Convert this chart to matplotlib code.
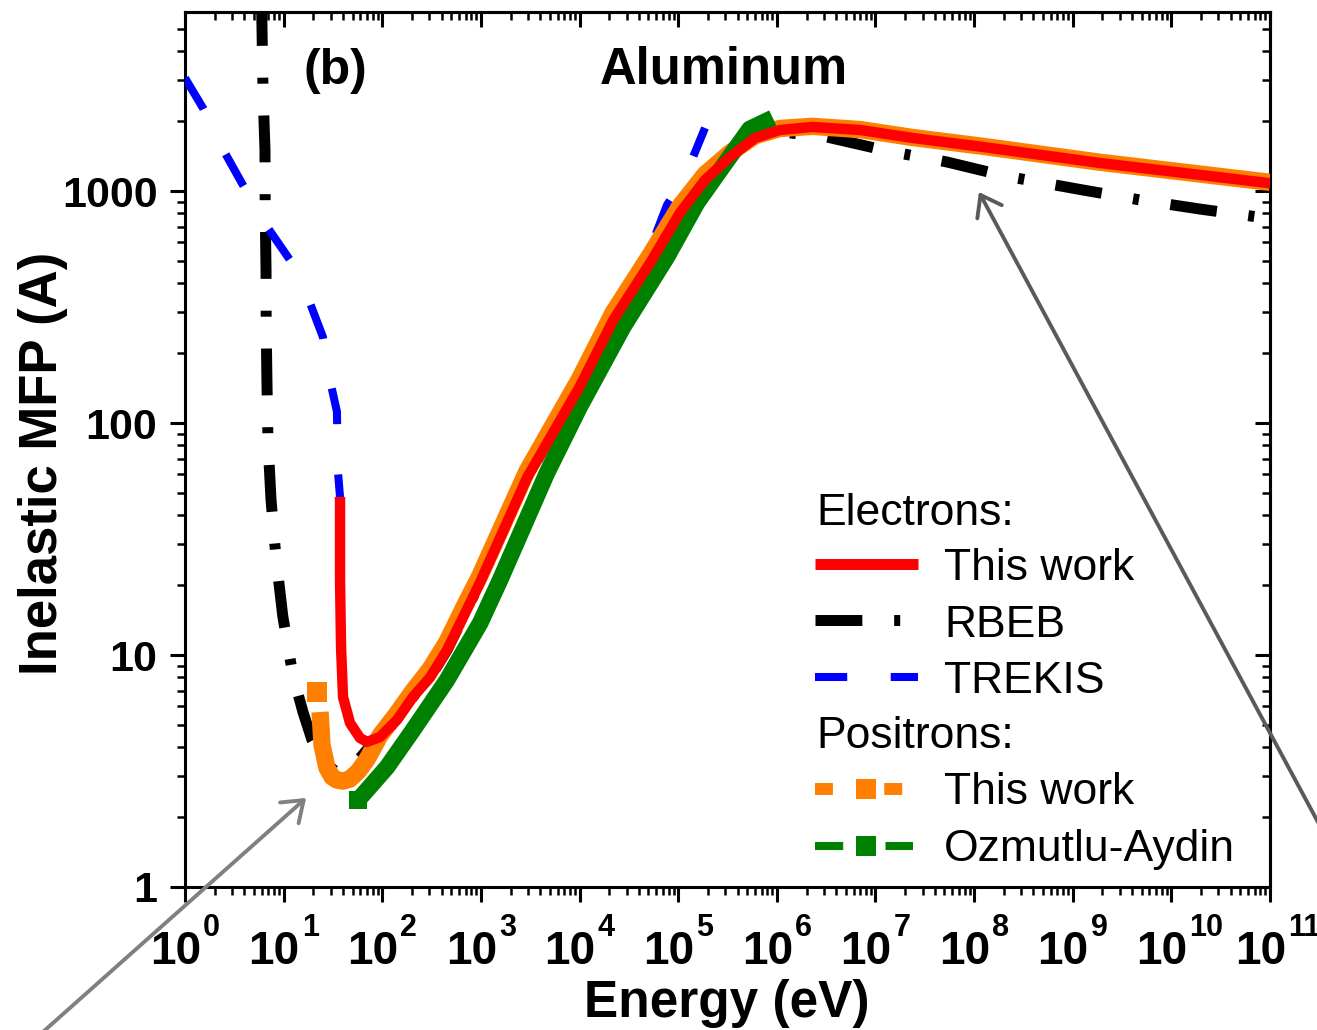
import numpy as np
import matplotlib
matplotlib.use("Agg")
import matplotlib.pyplot as plt
from matplotlib.ticker import FixedLocator, NullFormatter

plt.rcParams['font.family'] = ['Liberation Sans', 'DejaVu Sans']

# --- electrons, this work ---
E_el = [37.3, 37.3, 38.2, 40, 47.1, 59.4, 70, 94.8, 141, 205, 305, 453, 658, 978,
        2930, 1e4, 2.2e4, 5.2e4, 1.04e5, 1.87e5, 3.35e5, 6e5, 1.07e6, 2.3e6,
        7e6, 2.4e7, 1.2e8, 1.9e9, 1e11]
mfp_el = [48, 21.1, 10.8, 6.59, 5.09, 4.39, 4.22, 4.43, 5.25, 6.6, 8.0, 10.5, 14.5, 20.5,
          58, 143, 278, 490, 804, 1115, 1402, 1692, 1832, 1888,
          1832, 1692, 1550, 1320, 1080]

# --- electrons, RBEB ---
E_rbeb = [5.9, 6.18, 6.47, 6.5, 6.63, 6.65, 6.78, 6.94, 7.45, 8.37, 9.8, 12.4, 15.7, 19.4,
          25, 35, 50, 70, 94.8, 141, 205, 305, 453, 658, 978, 2930, 1e4, 2.2e4, 5.2e4,
          1.04e5, 1.87e5, 3.35e5, 6e5, 1.07e6, 3.2e6, 1.34e7,
          5.3e7, 2.05e8, 1.27e9, 4.8e9, 1.95e10, 1e11]
mfp_rbeb = [9000, 2700, 1500, 845, 457, 267, 147, 83, 46.6, 26.2, 14.7, 8.2, 5.68, 4.3,
            3.5, 3.1, 3.3, 3.9, 4.43, 5.25, 6.6, 8.0, 10.5, 14.5, 20.5, 58, 143, 278, 490,
            804, 1115, 1402, 1692, 1800, 1710, 1487,
            1334, 1161, 1010, 915, 836, 760]

# --- electrons, TREKIS ---
E_trekis = [1.0, 1.52, 2.54, 3.87, 6.94, 11.6, 18.5, 25, 29.5, 34.7, 35.5, 37.3,
            38.2, 40, 47.1, 59.4, 70, 94.8, 141, 205, 305, 453, 658, 978, 2930,
            1e4, 2.2e4, 5e4, 7.7e4, 1.17e5, 1.87e5]
mfp_trekis = [3070, 2280, 1460, 1060, 692, 504, 329, 235, 153, 112, 62, 48,
              10.8, 6.59, 5.09, 4.39, 4.22, 4.43, 5.25, 6.6, 8.0, 10.5, 14.5, 20.5, 58,
              143, 278, 540, 870, 1150, 1870]

# --- positrons, this work ---
E_pos = [21.8, 23.4, 24.5, 27.5, 31, 34.8, 40, 47, 57, 70, 95, 141, 205, 305, 453, 658,
         978, 2930, 1e4, 2.2e4, 5.2e4, 1.04e5, 1.87e5, 3.35e5, 6e5, 1.07e6, 2.3e6, 7e6,
         2.4e7, 1.2e8, 1.9e9, 1e11]
mfp_pos = [6.93, 5.68, 4.09, 3.26, 2.98, 2.89, 2.86, 2.92, 3.15, 3.55, 4.5, 5.6, 7.0, 8.7,
           11.4, 15.8, 22, 62, 155, 300, 530, 860, 1180, 1460, 1730, 1860, 1900, 1840,
           1700, 1560, 1330, 1090]

# --- positrons, Ozmutlu-Aydin ---
E_oa = [57, 112, 205, 453, 980, 1560, 4680, 1e4, 2.76e4, 7.7e4, 1.55e5, 2.85e5, 5.3e5, 9.1e5]
mfp_oa = [2.37, 3.29, 4.75, 7.8, 13.7, 21, 61, 117, 259, 520, 888, 1280, 1850, 2065]

x_exp = list(range(12))
x_major = [10.0 ** k for k in x_exp]
y_major = [1, 10, 100, 1000]
y_labels = ['1', '10', '100', '1000']

leg_head = ['Electrons:', 'Positrons:']
leg_names = ['This work', 'RBEB', 'TREKIS', 'This work', 'Ozmutlu-Aydin']

fig = plt.figure(figsize=(13.17, 10.30), dpi=100)
ax = fig.add_axes([185 / 1317, 143 / 1030, 1085 / 1317, 875 / 1030])

ls_rbeb = (0, (4.27, 2.9, 0.55, 2.9))
ls_trekis = (0, (4.5, 6.25))

ax.plot(E_rbeb, mfp_rbeb, color='black', lw=7.9, ls=ls_rbeb, zorder=2)
ax.plot(E_trekis, mfp_trekis, color='#0000ff', lw=5.8, ls=ls_trekis, zorder=3)
ax.plot(E_pos[1:], mfp_pos[1:], color='#ff8000', lw=12.5, solid_joinstyle='round',
        solid_capstyle='butt', zorder=4)
ax.plot(E_pos[:1], mfp_pos[:1], 's', color='#ff8000', ms=14, mew=0, zorder=4)
ax.plot(E_oa, mfp_oa, color='#008000', lw=12, solid_joinstyle='round',
        solid_capstyle='butt', zorder=5)
ax.plot(E_oa[:1], mfp_oa[:1], 's', color='#008000', ms=13.5, mew=0, zorder=5)
ax.plot(E_el, mfp_el, color='#ff0000', lw=7.5, solid_joinstyle='round',
        solid_capstyle='butt', zorder=6)

ax.set_xscale('log')
ax.set_yscale('log')
ax.set_xlim(1, 1e11)
ax.set_ylim(1, 5910)

minor_x = [m * 10.0 ** k for k in range(11) for m in range(2, 10)]
minor_y = [m * 10.0 ** k for k in range(4) for m in range(2, 10)]

ax.xaxis.set_major_locator(FixedLocator(x_major))
ax.xaxis.set_minor_locator(FixedLocator(minor_x))
ax.xaxis.set_major_formatter(NullFormatter())
ax.xaxis.set_minor_formatter(NullFormatter())
ax.yaxis.set_major_locator(FixedLocator(y_major))
ax.yaxis.set_minor_locator(FixedLocator(minor_y))
ax.set_yticklabels(y_labels)
ax.yaxis.set_minor_formatter(NullFormatter())

ax.tick_params(which='major', direction='out', length=10.8, width=2.2)
ax.tick_params(which='minor', direction='out', length=5.8, width=1.8)
ax.tick_params(axis='y', which='major', labelsize=31, pad=9)
for lab in ax.get_yticklabels():
    lab.set_fontweight('bold')
for sp in ax.spines.values():
    sp.set_linewidth(2.2)

# inward ticks on the top and right edges
top = ax.secondary_xaxis('top')
top.xaxis.set_major_locator(FixedLocator(x_major))
top.xaxis.set_minor_locator(FixedLocator(minor_x))
top.tick_params(which='major', direction='in', length=10.8, width=2.2, labeltop=False)
top.tick_params(which='minor', direction='in', length=5.8, width=1.8)
top.xaxis.set_minor_formatter(NullFormatter())
top.spines['top'].set_linewidth(2.2)
right = ax.secondary_yaxis('right')
right.yaxis.set_major_locator(FixedLocator(y_major))
right.yaxis.set_minor_locator(FixedLocator(minor_y))
right.tick_params(which='major', direction='in', length=10.8, width=2.2, labelright=False)
right.tick_params(which='minor', direction='in', length=5.8, width=1.8)
right.yaxis.set_minor_formatter(NullFormatter())
right.spines['right'].set_linewidth(2.2)


def ax_x(px):
    return (px - 185) / 1085


def ax_y(py):
    return (887 - py) / 875


# power-of-ten labels: base and raised exponent as separate texts
xt = ax.get_xaxis_transform()
for k, xv in zip(x_exp, x_major):
    ax.annotate('10', xy=(xv, ax_y(964)), xycoords=xt, xytext=(16, 0),
                textcoords='offset pixels', fontsize=33, fontweight='bold',
                ha='right', va='baseline', annotation_clip=False)
    ax.annotate(str(k), xy=(xv, ax_y(936)), xycoords=xt, xytext=(18, 0),
                textcoords='offset pixels', fontsize=22, fontweight='bold',
                ha='left', va='baseline', annotation_clip=False)

ax.set_xlabel('Energy (eV)', fontsize=37, fontweight='bold', va='center')
ax.xaxis.set_label_coords(ax_x(727), ax_y(1004))
ax.set_ylabel('Inelastic MFP (A)', fontsize=38, fontweight='bold', va='center')
ax.yaxis.set_label_coords(ax_x(43), ax_y(463))

tr = ax.transAxes
ax.text(ax_x(724), ax_y(83), 'Aluminum', fontsize=36.5, fontweight='bold',
        ha='center', va='baseline', transform=tr)
ax.text(ax_x(304), ax_y(84), '(b)', fontsize=36, fontweight='bold',
        ha='left', va='baseline', transform=tr)

# legend block
kw = dict(transform=tr, clip_on=False, zorder=10)
x0, x1 = ax_x(815), ax_x(918)
ax.plot([x0, x1], [ax_y(564)] * 2, color='#ff0000', lw=7.9, solid_capstyle='butt', **kw)
ax.plot([x0, x1], [ax_y(620)] * 2, color='black', lw=7.9, ls=ls_rbeb, **kw)
ax.plot([x0, x1], [ax_y(677)] * 2, color='#0000ff', lw=5.8, ls=(0, (4.0, 5.4)), **kw)
ax.plot([x0, ax_x(903)], [ax_y(789)] * 2, color='#ff8000', lw=8.6, ls=(0, (1.5, 4.3)), **kw)
ax.plot([ax_x(866)], [ax_y(789)], 's', color='#ff8000', ms=14.4, mew=0, **kw)
ax.plot([x0, ax_x(913)], [ax_y(846)] * 2, color='#008000', lw=5.8, ls=(0, (3.5, 5.25)), **kw)
ax.plot([ax_x(866)], [ax_y(846)], 's', color='#008000', ms=14.4, mew=0, **kw)

for name, py in zip(leg_head, [525, 748]):
    ax.text(ax_x(816), ax_y(py), name, fontsize=32, ha='left', va='baseline', transform=tr)
for name, py in zip(leg_names, [580, 637, 693, 804, 861]):
    ax.text(ax_x(944), ax_y(py), name, fontsize=32, ha='left', va='baseline', transform=tr)

# pointer arrows
ax.annotate('', xy=(16.9, 2.42), xycoords='data', xytext=(-0.0076, -0.0476),
            textcoords='figure fraction', annotation_clip=False,
            arrowprops=dict(arrowstyle='->,head_length=0.55,head_width=0.4', color='#808080',
                            lw=2.8, mutation_scale=25, shrinkA=0, shrinkB=0), zorder=9)
ax.annotate('', xy=(1.12e8, 990), xycoords='data', xytext=(1.0175, 0.162),
            textcoords='figure fraction', annotation_clip=False,
            arrowprops=dict(arrowstyle='->,head_length=0.55,head_width=0.4', color='#5a5a5a',
                            lw=2.8, mutation_scale=25, shrinkA=0, shrinkB=0), zorder=9)

fig.savefig('out.png', dpi=100)
